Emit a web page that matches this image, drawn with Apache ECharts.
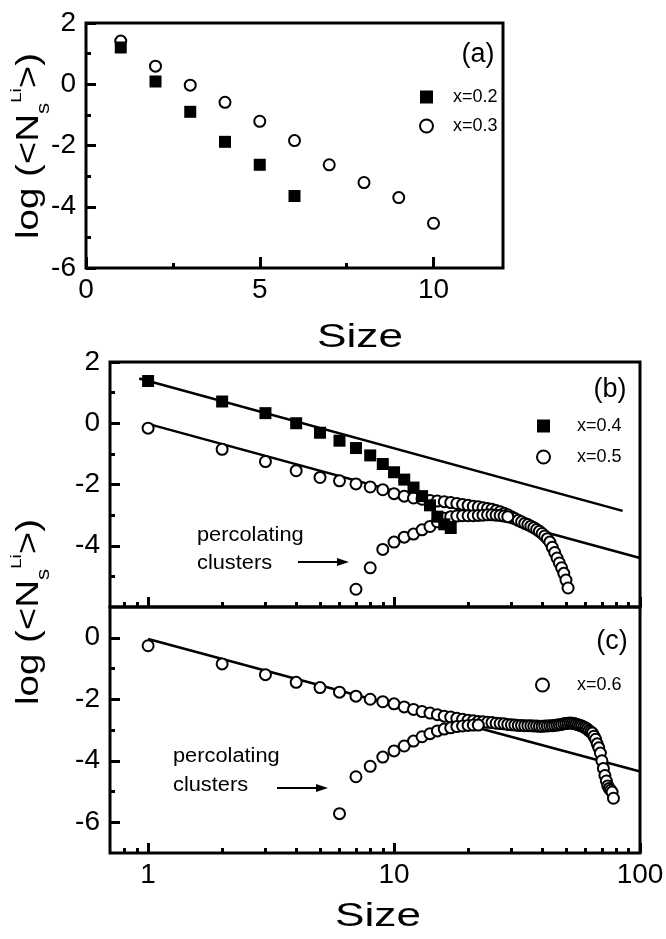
<!DOCTYPE html>
<html>
<head>
<meta charset="utf-8">
<script src="https://cdn.jsdelivr.net/npm/echarts@6/dist/echarts.min.js"></script>
<style>
  html, body { margin: 0; padding: 0; background: #fff; }
  #chart { width: 666px; height: 939px; }
</style>
</head>
<body>
<div id="chart"></div>
<script>
// integer cluster sizes from a to b
function range(a, b) { const r = []; for (let i = a; i <= b; i++) r.push(i); return r; }

// ---- (a) linear size axis ----
const sizeA02 = range(1, 6);
const logA02 = [1.2, 0.09, -0.9, -1.88, -2.63, -3.65];
const sizeA03 = range(1, 10);
const logA03 = [1.41, 0.59, -0.03, -0.59, -1.21, -1.84, -2.63, -3.21, -3.7, -4.54];

// ---- (b) logarithmic size axis ----
const sizeB04 = range(1, 17);
const logB04 = [1.38, 0.71, 0.33, 0.0, -0.31, -0.57, -0.81, -1.05, -1.33, -1.6,
                -1.84, -2.1, -2.38, -2.68, -3.05, -3.3, -3.42];
const sizeB05 = range(1, 51);
const logB05 = [-0.16, -0.85, -1.25, -1.55, -1.77, -1.88, -1.98, -2.08, -2.17, -2.3,
                -2.38, -2.44, -2.48, -2.52, -2.54, -2.56, -2.59, -2.62, -2.65, -2.68,
                -2.71, -2.73, -2.76, -2.78, -2.81, -2.85, -2.89, -2.94, -2.99, -3.05,
                -3.11, -3.17, -3.22, -3.27, -3.31, -3.36, -3.41, -3.47, -3.53, -3.6,
                -3.68, -3.77, -3.88, -4.05, -4.22, -4.4, -4.56, -4.72, -4.9, -5.12,
                -5.38];
// percolating clusters, x = 0.5
const sizeB05p = range(7, 29);
const logB05p = [-5.42, -4.72, -4.12, -3.88, -3.72, -3.62, -3.48, -3.37, -3.22, -3.1,
                 -3.05, -3.03, -3.02, -3.02, -3.02, -3.01, -3.0, -2.99, -2.99, -3.0,
                 -3.01, -3.03, -3.05];
// power-law fits (end points)
const fitB04Size = [0.92, 85];
const fitB04Log = [1.46, -2.86];
const fitB05Size = [1, 100];
const fitB05Log = [-0.02, -4.4];

// ---- (c) logarithmic size axis ----
const sizeC06 = range(1, 78);
const logC06 = [-0.26, -0.85, -1.2, -1.45, -1.62, -1.77, -1.9, -2.0, -2.08, -2.15,
                -2.25, -2.33, -2.4, -2.45, -2.5, -2.55, -2.58, -2.62, -2.65, -2.68,
                -2.7, -2.72, -2.73, -2.75, -2.76, -2.78, -2.79, -2.8, -2.82, -2.83,
                -2.84, -2.85, -2.85, -2.86, -2.86, -2.86, -2.87, -2.87, -2.88, -2.88,
                -2.87, -2.87, -2.86, -2.86, -2.85, -2.84, -2.83, -2.82, -2.8, -2.79,
                -2.78, -2.77, -2.78, -2.79, -2.81, -2.83, -2.85, -2.87, -2.9, -2.93,
                -2.97, -3.02, -3.06, -3.1, -3.2, -3.3, -3.45, -3.58, -3.75, -4.0,
                -4.25, -4.48, -4.66, -4.82, -4.9, -4.96, -5.02, -5.22];
// percolating clusters, x = 0.6
const sizeC06p = range(6, 22);
const logC06p = [-5.72, -4.52, -4.18, -3.88, -3.68, -3.52, -3.36, -3.22, -3.12, -3.03,
                 -2.97, -2.93, -2.89, -2.87, -2.85, -2.84, -2.84];
const fitC06Size = [1, 100];
const fitC06Log = [-0.04, -4.35];

// ---- ticks ----
const xTicksA = [0, 5, 10];
const xMinorA = [2.5, 7.5];
const decadeTicks = [1, 10, 100];
const decadeMinor = [0.8, 0.9, 2, 3, 4, 5, 6, 7, 8, 9, 20, 30, 40, 50, 60, 70, 80, 90];
const yTicksA = [-6, -4, -2, 0, 2];
const yMinorA = [-5, -3, -1, 1];
const yTicksB = [-4, -2, 0, 2];
const yMinorB = [-5, -3, -1, 1];
const yTicksC = [-6, -4, -2, 0];
const yMinorC = [-5, -3, -1];

const FF = "'Liberation Sans', Arial, Helvetica, sans-serif";
const lg = Math.log10;
const linPts = (s, v) => s.map((x, i) => [x, v[i]]);
const logPts = (s, v) => s.map((x, i) => [lg(x), v[i]]);

function xAxisOf(grid, min, max, ticks, len, labels, fmt) {
  return {
    type: 'value', gridIndex: grid, min: min, max: max, position: 'bottom',
    axisLine: { show: false, onZero: false }, splitLine: { show: false },
    axisTick: { show: true, inside: true, length: len, customValues: ticks,
                lineStyle: { color: '#000', width: 3 } },
    axisLabel: { show: labels, customValues: ticks, formatter: fmt,
                 fontSize: 28, color: '#000', fontFamily: FF, margin: 8 }
  };
}
function yAxisOf(grid, min, max, ticks, len, labels) {
  return {
    type: 'value', gridIndex: grid, min: min, max: max, position: 'left',
    axisLine: { show: false, onZero: false }, splitLine: { show: false },
    axisTick: { show: true, inside: true, length: len, customValues: ticks,
                lineStyle: { color: '#000', width: 3 } },
    axisLabel: { show: labels, customValues: ticks,
                 fontSize: 28, color: '#000', fontFamily: FF, margin: 10 }
  };
}
const decFmt = v => String(Math.round(Math.pow(10, v)));
const lgMin = lg(0.7), lgMax = 2;

const openCircle = { color: '#fff', borderColor: '#000', borderWidth: 2, opacity: 1 };
const solid = { color: '#000', opacity: 1 };
const fitStyle = { color: '#000', width: 2.5 };

const gridBase = { show: true, borderColor: '#000', borderWidth: 3, backgroundColor: 'transparent',
                   containLabel: false, outerBoundsMode: 'none' };

const yTitle = (x, y) => ({
  type: 'text', x: x, y: y, rotation: Math.PI / 2, scaleX: 1.24,
  style: {
    text: '{m|log (<N}{s|s}{u|Li}{m|>)}',
    align: 'center', verticalAlign: 'middle', fill: '#000', fontSize: 31, fontFamily: FF,
    rich: {
      m: { fontSize: 31, lineHeight: 31, verticalAlign: 'bottom', padding: [0, 0, 8, 0], fontFamily: FF, fill: '#000' },
      s: { fontSize: 18, lineHeight: 18, verticalAlign: 'bottom', fontFamily: FF, fill: '#000' },
      u: { fontSize: 15, lineHeight: 15, verticalAlign: 'bottom', padding: [0, 0, 29, 0], fontFamily: FF, fill: '#000' }
    }
  }
});
const label = (x, y, text, size, align, sx) => ({
  type: 'text', x: x, y: y, scaleX: sx || 1,
  style: { text: text, fontSize: size, fontFamily: FF, fill: '#000',
           align: align || 'center', verticalAlign: 'middle' }
});
const arrow = (x1, x2, y) => ({
  type: 'group', children: [
    { type: 'line', shape: { x1: x1, y1: y, x2: x2 - 8, y2: y }, style: { stroke: '#000', lineWidth: 2 } },
    { type: 'polygon', shape: { points: [[x2, y], [x2 - 12, y - 4], [x2 - 12, y + 4]] }, style: { fill: '#000' } }
  ]
});

const option = {
  animation: false,
  backgroundColor: '#fff',
  textStyle: { fontFamily: FF },
  grid: [
    Object.assign({ left: 86, top: 23, width: 417, height: 245 }, gridBase),
    Object.assign({ left: 110, top: 362, width: 530, height: 245 }, gridBase),
    Object.assign({ left: 110, top: 607, width: 530, height: 246 }, gridBase)
  ],
  xAxis: [
    xAxisOf(0, 0, 12, xTicksA, 11, true),
    xAxisOf(0, 0, 12, xMinorA, 5, false),
    xAxisOf(1, lgMin, lgMax, decadeTicks.map(lg), 10, false, decFmt),
    xAxisOf(1, lgMin, lgMax, decadeMinor.map(lg), 5, false, decFmt),
    xAxisOf(2, lgMin, lgMax, decadeTicks.map(lg), 10, true, decFmt),
    xAxisOf(2, lgMin, lgMax, decadeMinor.map(lg), 5, false, decFmt)
  ],
  yAxis: [
    yAxisOf(0, -6, 2, yTicksA, 10, true),
    yAxisOf(0, -6, 2, yMinorA, 5, false),
    yAxisOf(1, -6, 2, yTicksB, 10, true),
    yAxisOf(1, -6, 2, yMinorB, 5, false),
    yAxisOf(2, -7, 1, yTicksC, 10, true),
    yAxisOf(2, -7, 1, yMinorC, 5, false)
  ],
  legend: [
    { data: ['x=0.2', 'x=0.3'], orient: 'vertical', left: 419, top: 88, padding: 0,
      itemWidth: 13, itemHeight: 13, itemGap: 11, selectedMode: false,
      textStyle: { fontSize: 18, color: '#000', fontFamily: FF, padding: [0, 0, 0, 15] } },
    { data: ['x=0.4', 'x=0.5'], orient: 'vertical', left: 536, top: 417, padding: 0,
      itemWidth: 13, itemHeight: 13, itemGap: 13, selectedMode: false,
      textStyle: { fontSize: 18, color: '#000', fontFamily: FF, padding: [0, 0, 0, 22] } },
    { data: ['x=0.6'], orient: 'vertical', left: 535, top: 676, padding: 0,
      itemWidth: 13, itemHeight: 13, selectedMode: false,
      textStyle: { fontSize: 18, color: '#000', fontFamily: FF, padding: [0, 0, 0, 23] } }
  ],
  series: [
    { type: 'line', name: 'fit 0.4', xAxisIndex: 2, yAxisIndex: 2, data: logPts(fitB04Size, fitB04Log),
      symbol: 'none', lineStyle: fitStyle, silent: true, z: 1 },
    { type: 'line', name: 'fit 0.5', xAxisIndex: 2, yAxisIndex: 2, data: logPts(fitB05Size, fitB05Log),
      symbol: 'none', lineStyle: fitStyle, silent: true, z: 1 },
    { type: 'line', name: 'fit 0.6', xAxisIndex: 4, yAxisIndex: 4, data: logPts(fitC06Size, fitC06Log),
      symbol: 'none', lineStyle: fitStyle, silent: true, z: 1 },
    { type: 'scatter', name: 'x=0.3', xAxisIndex: 0, yAxisIndex: 0, data: linPts(sizeA03, logA03),
      symbol: 'circle', symbolSize: 11, itemStyle: openCircle, z: 2 },
    { type: 'scatter', name: 'x=0.2', xAxisIndex: 0, yAxisIndex: 0, data: linPts(sizeA02, logA02),
      symbol: 'rect', symbolSize: 12, itemStyle: solid, z: 3 },
    { type: 'scatter', name: 'x=0.5', xAxisIndex: 2, yAxisIndex: 2,
      data: logPts(sizeB05, logB05).concat(logPts(sizeB05p, logB05p)),
      symbol: 'circle', symbolSize: 11, itemStyle: openCircle, z: 2 },
    { type: 'scatter', name: 'x=0.4', xAxisIndex: 2, yAxisIndex: 2, data: logPts(sizeB04, logB04),
      symbol: 'rect', symbolSize: 12, itemStyle: solid, z: 3 },
    { type: 'scatter', name: 'x=0.6', xAxisIndex: 4, yAxisIndex: 4,
      data: logPts(sizeC06, logC06).concat(logPts(sizeC06p, logC06p)),
      symbol: 'circle', symbolSize: 11, itemStyle: openCircle, z: 2 }
  ],
  graphic: [
    yTitle(37.7, 146),
    yTitle(37.7, 612),
    label(360, 338, 'Size', 34, 'center', 1.3),
    label(378, 917, 'Size', 34, 'center', 1.3),
    label(478, 55, '(a)', 27),
    label(610, 390, '(b)', 27),
    label(612, 642, '(c)', 27),
    label(197, 535, 'percolating', 20, 'left', 1.09),
    label(197, 563, 'clusters', 20, 'left', 1.09),
    arrow(298, 349, 562),
    label(173, 756, 'percolating', 20, 'left', 1.09),
    label(173, 785, 'clusters', 20, 'left', 1.09),
    arrow(277, 328, 788)
  ]
};

const chart = echarts.init(document.getElementById('chart'), null, { renderer: 'canvas' });
chart.setOption(option);
</script>
</body>
</html>
